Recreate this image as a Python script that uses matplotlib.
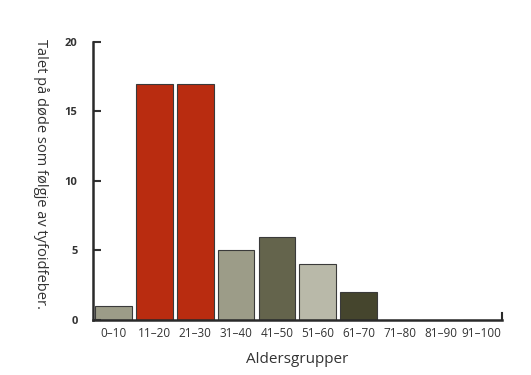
import matplotlib
matplotlib.use("Agg")
import matplotlib.pyplot as plt

plt.rcParams['font.family'] = ['Open Sans', 'DejaVu Sans']

# data
age_groups = ["0\u201310", "11\u201320", "21\u201330", "31\u201340", "41\u201350",
              "51\u201360", "61\u201370", "71\u201380", "81\u201390", "91\u2013100"]
deaths = [1, 17, 17, 5, 6, 4, 2, 0, 0, 0]
bar_colors = ["#9c9c88", "#b92c10", "#b92c10", "#9c9c88", "#64644c",
              "#b9b9a9", "#45452d", "#999999", "#999999", "#999999"]
y_ticks = [0, 5, 10, 15, 20]

fig = plt.figure(figsize=(5.31, 3.75), dpi=100)
ax = fig.add_axes([0.175, 0.147, 0.77, 0.741])

x = list(range(len(age_groups)))
ax.bar(x, deaths, width=0.9, color=bar_colors, edgecolor="#3a3a3a", linewidth=0.8)

ax.set_xlim(-0.5, 9.5)
ax.set_ylim(0, 20)
ax.set_yticks(y_ticks)
ax.set_xticks(x)
ax.set_xticklabels(age_groups, fontsize=8.5, color="#333333")
ax.tick_params(axis="x", length=0, pad=5)
ax.tick_params(axis="y", direction="in", length=6, width=1.5, color="#333333",
               labelsize=8, labelcolor="#333333", pad=11)
for lbl in ax.get_yticklabels():
    lbl.set_fontweight("bold")

for side in ["top", "right"]:
    ax.spines[side].set_visible(False)
for side in ["left", "bottom"]:
    ax.spines[side].set_linewidth(1.8)
    ax.spines[side].set_color("#2a2a2a")

# small closing tick at the right end of the x axis
ax.axvline(9.5, ymin=0, ymax=0.025, color="#2a2a2a", linewidth=1.5, clip_on=False)

ax.set_xlabel("Aldersgrupper", fontsize=11, color="#333333", labelpad=9)
fig.text(0.078, 0.535, "Talet på døde som følgje av tyfoidfeber.", rotation=-90,
         ha="center", va="center", fontsize=10.5, color="#333333")

fig.savefig("out.png", dpi=100)
